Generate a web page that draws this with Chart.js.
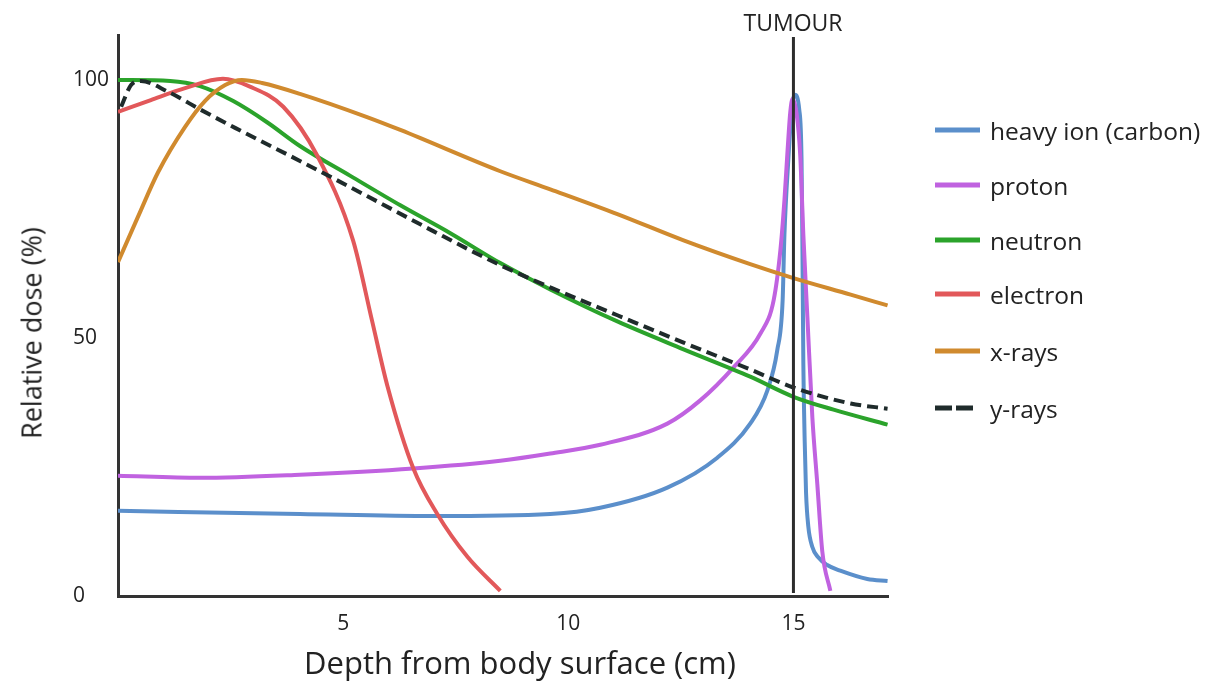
<!DOCTYPE html>
<html>
<head>
<meta charset="utf-8">
<script src="https://cdn.jsdelivr.net/npm/chart.js@4.4.1/dist/chart.umd.min.js"></script>
<style>
    body { margin: 0; background: #fff; font-family: "Open Sans", sans-serif; color: #222; }
    #wrap { position: relative; width: 1207px; height: 682px; }
    #dose-chart { position: absolute; left: 0; top: 0; }
    .y-title { position: absolute; left: 31px; top: 333px; transform: translate(-50%, -50%) rotate(-90deg); font-size: 27px; white-space: nowrap; }
    .x-title { position: absolute; left: 520px; top: 662px; transform: translate(-50%, -50%); font-size: 31px; white-space: nowrap; }
    .tumour { position: absolute; left: 793px; top: 22px; transform: translate(-50%, -50%); font-size: 23px; }
    #legend { position: absolute; left: 935px; top: 0; }
    .legend-item { position: absolute; left: 0; display: flex; align-items: center; font-size: 24.5px; white-space: nowrap; transform: translateY(-50%); }
    .legend-line { display: inline-block; width: 45px; height: 5px; margin-right: 10px; }
</style>
</head>
<body>
<div id="wrap">
    <canvas id="dose-chart" width="1207" height="682"></canvas>
    <div class="y-title">Relative dose (%)</div>
    <div class="x-title">Depth from body surface (cm)</div>
    <div class="tumour">TUMOUR</div>
    <div id="legend"></div>
</div>
<script>
// depth in cm, dose in %
const heavyIonDepth = [0, 4.04, 7.0, 9.6, 10.71, 12.2, 13.31, 14.04, 14.42, 14.64, 14.76, 14.8, 14.89, 14.96, 15.03, 15.13, 15.18, 15.2, 15.22, 15.25, 15.28, 15.33, 15.42, 15.55, 15.75, 16.04, 16.64, 17.09];
const heavyIonDose  = [16.5, 15.9, 15.5, 15.9, 17.1, 21.0, 26.8, 33.4, 39.8, 47.6, 57.3, 70.0, 85.0, 94.0, 97.1, 94.2, 84.5, 67.0, 45.0, 30.0, 20.0, 13.5, 9.5, 7.5, 6.0, 4.9, 3.3, 2.9];

const protonDepth = [0, 1.82, 4.04, 6.56, 8.49, 9.6, 10.71, 12.2, 12.93, 13.67, 14.27, 14.56, 14.71, 14.8, 14.87, 14.93, 14.98, 15.07, 15.15, 15.22, 15.31, 15.42, 15.53, 15.64, 15.82];
const protonDose  = [23.3, 22.9, 23.5, 24.7, 26.2, 27.6, 29.3, 33.4, 37.9, 44.3, 50.9, 57.3, 67.0, 76.7, 86.4, 93.8, 96.3, 93.5, 85.5, 70.0, 54.0, 34.6, 21.7, 8.7, 1.0];

const neutronDepth = [0, 1.16, 1.82, 2.56, 3.31, 4.04, 5.16, 6.27, 7.38, 8.49, 9.6, 11.09, 12.56, 14.04, 15.0, 15.89, 17.09];
const neutronDose  = [100, 99.8, 98.8, 95.9, 91.8, 87.2, 81.4, 75.7, 70.3, 64.5, 59.4, 53.2, 47.8, 42.5, 38.6, 36.1, 33.2];

const electronDepth = [0, 0.73, 1.49, 2.33, 2.93, 3.67, 4.42, 5.22, 5.64, 5.98, 6.56, 7.09, 7.76, 8.49];
const electronDose  = [93.8, 96.1, 98.4, 100.2, 98.7, 94.8, 85.4, 68.9, 53.4, 40.8, 24.7, 15.9, 7.6, 1.0];

const xRayDepth = [0, 0.44, 0.89, 1.49, 1.93, 2.38, 2.75, 3.2, 4.04, 5.53, 6.27, 8.49, 9.6, 11.09, 12.56, 14.04, 15.0, 16.27, 17.09];
const xRayDose  = [64.7, 73.4, 82.1, 90.9, 95.9, 99.0, 100, 99.4, 97.3, 92.8, 90.3, 82.3, 78.8, 74.0, 68.9, 64.3, 61.6, 58.4, 56.3];

const gammaDepth = [0.07, 0.29, 0.51, 1.11, 1.84, 2.6, 4.04, 5.53, 7.0, 8.49, 9.6, 11.09, 12.56, 14.04, 15.0, 16.27, 17.09];
const gammaDose  = [94.8, 99.0, 99.8, 97.7, 94.2, 90.7, 84.3, 77.5, 70.7, 64.1, 59.8, 54.4, 49.1, 43.9, 40.4, 37.3, 36.3];

const tumourDepth = 15;
const tumourRange = [0.6, 108.3];

const xTickValues = [5, 10, 15];
const yTickValues = [0, 50, 100];

const seriesInfo = [
    { label: 'heavy ion (carbon)', depth: heavyIonDepth, dose: heavyIonDose, color: '#5b8fcb' },
    { label: 'proton', depth: protonDepth, dose: protonDose, color: '#c062e0' },
    { label: 'neutron', depth: neutronDepth, dose: neutronDose, color: '#2ba32b' },
    { label: 'electron', depth: electronDepth, dose: electronDose, color: '#e2585a' },
    { label: 'x-rays', depth: xRayDepth, dose: xRayDose, color: '#d08a2e' },
    { label: 'y-rays', depth: gammaDepth, dose: gammaDose, color: '#1f2b2b', dashed: true }
];

const datasets = seriesInfo.map((s, i) => ({
    label: s.label,
    data: s.depth.map((d, j) => ({ x: d, y: s.dose[j] })),
    borderColor: s.color,
    borderWidth: 4,
    borderDash: s.dashed ? [11, 6] : [],
    pointRadius: 0,
    showLine: true,
    cubicInterpolationMode: 'monotone',
    order: 6 - i
}));
datasets.push({
    label: 'tumour',
    data: tumourRange.map(v => ({ x: tumourDepth, y: v })),
    borderColor: '#2d2d2d',
    borderWidth: 3,
    pointRadius: 0,
    showLine: true,
    order: 0
});

new Chart(document.getElementById('dose-chart'), {
    type: 'scatter',
    data: { datasets: datasets },
    options: {
        responsive: false,
        animation: false,
        layout: { padding: { left: 73, top: 35, right: 319, bottom: 0 } },
        plugins: { legend: { display: false }, tooltip: { enabled: false } },
        scales: {
            x: {
                type: 'linear', min: 0, max: 17.1,
                grid: { display: false },
                border: { display: true, color: '#333', width: 3 },
                afterBuildTicks: (scale) => { scale.ticks = xTickValues.map(v => ({ value: v })); },
                afterFit: (scale) => { scale.height = 86; },
                ticks: { padding: 7, color: '#222', font: { family: 'Open Sans', size: 21 } }
            },
            y: {
                type: 'linear', min: 0, max: 108.7,
                grid: { display: false },
                border: { display: true, color: '#333', width: 3 },
                afterBuildTicks: (scale) => { scale.ticks = yTickValues.map(v => ({ value: v })); },
                afterFit: (scale) => { scale.width = 45; },
                ticks: { crossAlign: 'far', color: '#222', font: { family: 'Open Sans', size: 21 } }
            }
        }
    }
});

// legend on the right
const legend = document.getElementById('legend');
const legendRows = [130, 185, 240, 294, 351, 408];
seriesInfo.forEach((s, i) => {
    const item = document.createElement('div');
    item.className = 'legend-item';
    item.style.top = legendRows[i] + 'px';
    const sample = s.dashed
        ? `<span class="legend-line" style="background: repeating-linear-gradient(90deg, ${s.color} 0 17px, transparent 17px 21px); width: 38px; margin-right: 17px;"></span>`
        : `<span class="legend-line" style="background: ${s.color};"></span>`;
    item.innerHTML = sample + s.label;
    legend.appendChild(item);
});
</script>
</body>
</html>
